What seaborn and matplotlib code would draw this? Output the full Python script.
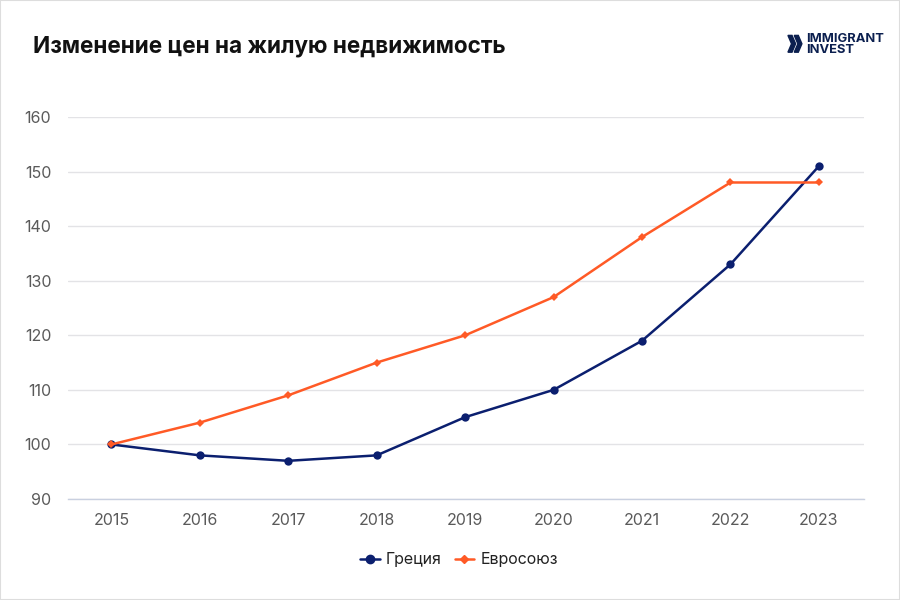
import matplotlib
matplotlib.use("Agg")
import matplotlib.pyplot as plt
import seaborn as sns
import pandas as pd
from matplotlib.patches import Polygon, Rectangle
from matplotlib.lines import Line2D

years = ["2015", "2016", "2017", "2018", "2019", "2020", "2021", "2022", "2023"]
greece = [100, 98, 97, 98, 105, 110, 119, 133, 151]
eu = [100, 104, 109, 115, 120, 127, 138, 148, 148]
series_names = ["Греция", "Евросоюз"]
yticks = [90, 100, 110, 120, 130, 140, 150, 160]

sns.set_theme(style="white")
plt.rcParams["font.family"] = ["Inter", "DejaVu Sans"]

df = pd.DataFrame({
    "year": years * 2,
    "value": greece + eu,
    "series": [series_names[0]] * len(years) + [series_names[1]] * len(years),
})

fig = plt.figure(figsize=(9, 6), dpi=100)
fig.patch.set_facecolor("white")
ax = fig.add_axes([0.0756, 0.1683, 0.8844, 0.6367])

palette = {series_names[0]: "#0b1f6f", series_names[1]: "#ff5a26"}
sns.lineplot(data=df, x="year", y="value", hue="series", style="series",
             markers={series_names[0]: "o", series_names[1]: "D"},
             dashes=False, palette=palette, linewidth=1.8, ax=ax,
             markersize=6, markeredgewidth=0, legend=False)
for line in ax.lines:
    if line.get_marker() == "D":
        line.set_markersize(4.5)

ax.set_ylim(90, 160)
ax.set_xlim(-0.49, 8.51)
ax.set_yticks(yticks)
ax.set_xlabel("")
ax.set_ylabel("")
ax.grid(axis="y", color="#e3e3e6", linewidth=1)
ax.set_axisbelow(True)
for s in ["top", "right", "left"]:
    ax.spines[s].set_visible(False)
ax.spines["bottom"].set_color("#c9d0e0")
ax.spines["bottom"].set_linewidth(1)
ax.tick_params(axis="both", length=0, labelsize=11.5, colors="#5a5a5a")
ax.tick_params(axis="y", pad=12)
ax.tick_params(axis="x", pad=10)

handles = [Line2D([], [], color=palette[series_names[0]], marker="o", markersize=6, lw=1.8),
           Line2D([], [], color=palette[series_names[1]], marker="D", markersize=4.5, lw=1.8)]
fig.legend(handles, series_names, loc="center", bbox_to_anchor=(0.51, 0.067),
           ncol=2, frameon=False, fontsize=11.5, handlelength=1.2,
           handletextpad=0.4, columnspacing=0.8, labelcolor="#222222")

fig.text(0.037, 0.923, "Изменение цен на жилую недвижимость", fontsize=16.2,
         fontweight="bold", color="#111111", va="center", ha="left")

# logo
navy = "#0b1f4f"
def chevron(x0, y0, w, h, t):
    pts = [(x0, y0 + h), (x0 + t, y0 + h), (x0 + w, y0 + h / 2),
           (x0 + t, y0), (x0, y0), (x0 + w - t, y0 + h / 2)]
    return Polygon(pts, closed=True, transform=fig.transFigure, color=navy)
fig.patches.append(chevron(0.8755, 0.913, 0.0085, 0.028, 0.0045))
fig.patches.append(chevron(0.8825, 0.913, 0.0085, 0.028, 0.0045))
fig.text(0.8955, 0.9345, "IMMIGRANT", fontsize=9.3, fontweight="bold", color=navy,
         va="center", ha="left")
fig.text(0.8955, 0.917, "INVEST", fontsize=9.3, fontweight="bold", color=navy,
         va="center", ha="left")

fig.patches.append(Rectangle((0, 0), 1, 1, transform=fig.transFigure, fill=False,
                             edgecolor="#dddddd", linewidth=1.5))

fig.savefig("out.png", dpi=100)
